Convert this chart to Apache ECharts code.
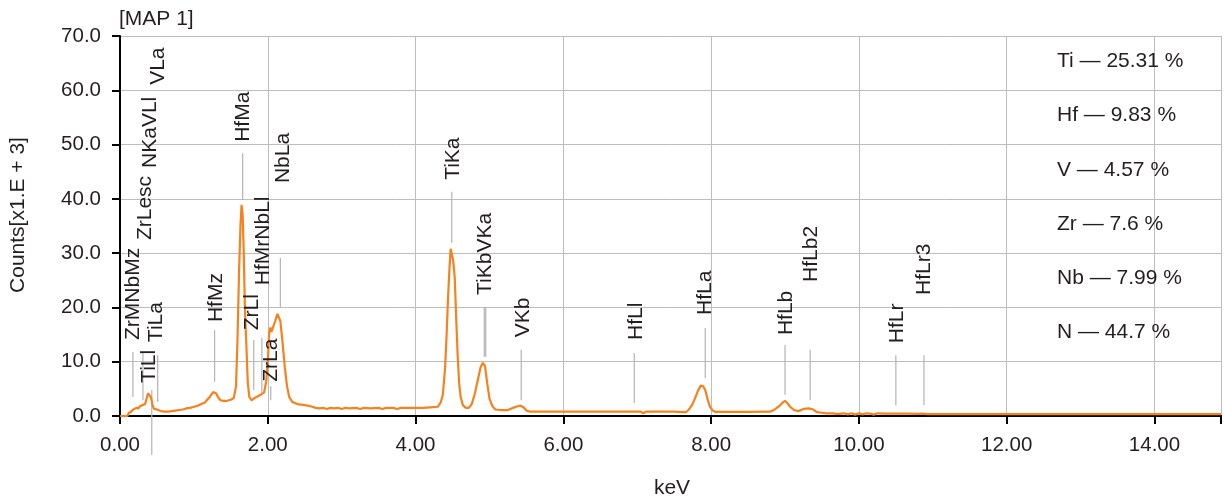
<!DOCTYPE html>
<html>
<head>
<meta charset="utf-8">
<script src="https://cdn.jsdelivr.net/npm/echarts@6/dist/echarts.min.js"></script>
<style>
html,body{margin:0;padding:0;background:#fff;}
#chart{width:1224px;height:497px;}
</style>
</head>
<body>
<div id="chart"></div>
<script>
// ---- data ----
const spectrumKeV = [0.00,0.10,0.12,0.15,0.18,0.20,0.22,0.25,0.27,0.30,0.32,0.34,0.36,0.38,0.40,0.42,0.44,0.46,0.50,0.55,0.60,0.65,0.70,0.75,0.80,0.85,0.90,0.95,1.00,1.05,1.10,1.15,1.18,1.22,1.26,1.28,1.30,1.33,1.36,1.40,1.45,1.50,1.54,1.57,1.59,1.61,1.63,1.645,1.66,1.675,1.69,1.71,1.73,1.75,1.78,1.82,1.86,1.90,1.95,1.98,2.00,2.02,2.035,2.05,2.07,2.10,2.13,2.15,2.17,2.20,2.23,2.26,2.29,2.33,2.40,2.50,2.58,2.65,2.70,2.75,2.80,2.85,2.90,2.95,3.00,3.05,3.10,3.20,3.25,3.30,3.40,3.50,3.55,3.60,3.70,3.75,3.80,3.90,4.00,4.10,4.20,4.30,4.34,4.37,4.40,4.42,4.44,4.46,4.475,4.49,4.51,4.53,4.55,4.57,4.59,4.61,4.64,4.68,4.72,4.76,4.80,4.84,4.88,4.91,4.94,4.97,5.00,5.04,5.08,5.15,5.25,5.32,5.38,5.42,5.46,5.50,5.55,5.70,6.00,6.50,7.00,7.05,7.08,7.12,7.50,7.60,7.66,7.70,7.74,7.78,7.82,7.86,7.89,7.92,7.95,7.98,8.02,8.06,8.50,8.80,8.86,8.92,8.97,9.00,9.03,9.07,9.12,9.18,9.25,9.32,9.38,9.43,9.50,9.55,9.60,9.62,9.64,9.70,9.72,9.74,9.80,9.85,9.90,9.95,10.00,10.05,10.10,10.15,10.20,10.25,10.35,10.50,10.60,10.62,10.65,10.80,10.82,10.85,10.92,11.00,12.00,13.00,14.00,14.90];
const spectrumCounts = [0,0,0.6,0.8,1.2,1.0,1.5,1.4,1.8,2.0,1.7,2.2,3.2,4.2,4.3,3.4,2.0,1.3,1.2,0.9,0.8,0.8,0.9,1.0,1.1,1.2,1.4,1.5,1.7,1.9,2.2,2.5,3.0,3.6,4.4,4.6,4.2,3.4,2.9,2.8,2.8,3.0,3.3,5.5,14,26,35,38.9,37,30,20,13,6,3.5,2.9,3.3,3.6,3.9,4.3,6.5,10,15.5,16.3,15.5,15.2,17.5,18.8,19.1,17.5,13.5,9.0,5.5,3.5,2.6,2.2,2.0,1.8,1.5,1.4,1.5,1.3,1.5,1.4,1.5,1.3,1.5,1.4,1.5,1.3,1.5,1.4,1.5,1.3,1.5,1.5,1.3,1.5,1.5,1.5,1.5,1.6,1.7,2.5,4.0,9.0,15,22,27.5,30.8,30.5,28.5,25.5,18,11,6,3.5,2.0,1.5,1.5,2.2,4.0,6.5,9.0,9.8,9.2,6.0,3.2,1.8,1.2,1.1,1.1,1.5,1.8,1.9,1.6,1.0,0.8,0.8,0.8,0.8,0.8,0.8,0.5,0.8,0.8,0.7,0.7,1.2,2.0,3.2,4.6,5.6,5.5,4.8,3.2,1.8,1.0,0.75,0.75,0.8,1.2,1.8,2.5,2.8,2.4,1.7,1.1,0.9,1.3,1.4,1.2,0.7,0.6,0.5,0.5,0.2,0.5,0.4,0.2,0.4,0.5,0.3,0.5,0.25,0.5,0.3,0.5,0.45,0.25,0.5,0.45,0.45,0.45,0.25,0.45,0.4,0.2,0.45,0.35,0.35,0.35,0.35,0.35,0.35];

// peak identification labels: name, keV position, counts at text base
const peakNames  = ['ZrMNbMz','ZrLesc','NKaVLl','VLa','TiLl','TiLa','HfMz','HfMa','ZrLl','HfMrNbLl','NbLa','ZrLa','TiKa','TiKbVKa','VKb','HfLl','HfLa','HfLb','HfLb2','HfLr','HfLr3'];
const peakTextKeV = [0.17,0.34,0.41,0.51,0.39,0.49,1.30,1.66,1.78,1.93,2.20,2.05,4.51,4.94,5.45,6.98,7.92,9.01,9.35,10.51,10.88];
const peakTextCounts = [14.0,32.4,45.7,61.0,6.1,13.6,17.3,50.5,15.8,24.1,42.9,6.3,43.5,22.3,14.5,14.0,18.6,14.9,24.7,13.4,22.3];

// peak marker lines: keV, low counts, high counts
const markerKeV  = [0.175,0.31,0.43,0.51,1.28,1.66,1.81,1.92,2.17,2.04,4.49,4.93,4.95,5.43,6.96,7.92,9.00,9.34,10.50,10.88];
const markerLow  = [3.5,2.9,-7.2,2.6,6.3,39.8,4.8,4.2,20.1,2.9,31.9,10.9,10.9,2.9,2.4,7.0,3.9,2.9,2.0,2.0];
const markerHigh = [11.8,11.8,4.8,11.2,15.8,48.4,14.0,14.4,29.1,5.5,41.3,20.1,20.1,12.2,11.6,16.2,13.1,12.2,11.2,11.2];

// composition legend
const elements = ['Ti','Hf','V','Zr','Nb','N'];
const percents = ['25.31','9.83','4.57','7.6','7.99','44.7'];
const legendCounts = [65,55,45,35,25,15];

const xTicks = {min:0, max:14.9, interval:2};
const yTicks = {min:0, max:70, interval:10};

// ---- chart ----
const FONT = '"Liberation Sans", Arial, sans-serif';
const TXT = '#231f20';
const chart = echarts.init(document.getElementById('chart'));

const spectrum = spectrumKeV.map((k,i)=>[k, spectrumCounts[i]]);
const labelData = peakNames.map((n,i)=>({name:n, value:[peakTextKeV[i], peakTextCounts[i]]}));
const markerData = markerKeV.map((k,i)=>[k, markerLow[i], markerHigh[i]]);
const legendData = elements.map((e,i)=>({name:e+' — '+percents[i]+' %', value:[0, legendCounts[i]]}));

chart.setOption({
  animation:false,
  grid:{left:120, right:0, top:36, bottom:81, containLabel:false},
  xAxis:[{
    type:'value', min:xTicks.min, max:xTicks.max, interval:xTicks.interval,
    axisLine:{show:true, onZero:false, lineStyle:{color:'#000', width:2}},
    axisTick:{show:true, length:8, lineStyle:{color:'#000', width:2}},
    axisLabel:{color:TXT, fontSize:20.5, fontFamily:FONT, margin:19,
      formatter:v=> (v>xTicks.max-0.5)?'':v.toFixed(2)},
    splitLine:{show:true, lineStyle:{color:'#bdbdbd', width:1}}
  },{
    type:'value', position:'top', min:xTicks.min, max:xTicks.max,
    axisLine:{show:true, lineStyle:{color:'#000', width:2}},
    axisTick:{show:false}, axisLabel:{show:false}, splitLine:{show:false}
  }],
  yAxis:{
    type:'value', min:yTicks.min, max:yTicks.max, interval:yTicks.interval,
    axisLine:{show:true, lineStyle:{color:'#000', width:2}},
    axisTick:{show:true, length:8, lineStyle:{color:'#000', width:2}},
    axisLabel:{color:TXT, fontSize:20.5, fontFamily:FONT, margin:19, formatter:v=>v.toFixed(1)},
    splitLine:{show:true, lineStyle:{color:'#bdbdbd', width:1}}
  },
  graphic:[
    {type:'text', left:119, top:9, style:{text:'[MAP 1]', fontSize:21, fontFamily:FONT, fill:TXT}},
    {type:'text', x:18, y:215, rotation:Math.PI/2, style:{text:'Counts[x1.E + 3]', fontSize:21, fontFamily:FONT, fill:TXT, align:'center', verticalAlign:'middle'}},
    {type:'text', x:672, y:488, style:{text:'keV', fontSize:21, fontFamily:FONT, fill:TXT, align:'center', verticalAlign:'middle'}}
  ],
  series:[
    {
      type:'custom', name:'markers', xAxisIndex:0, yAxisIndex:0, clip:false, z:2,
      data:markerData,
      renderItem:(params, api)=>{
        const p1 = api.coord([api.value(0), api.value(1)]);
        const p2 = api.coord([api.value(0), api.value(2)]);
        return {type:'line', shape:{x1:p1[0], y1:p1[1], x2:p2[0], y2:p2[1]},
          style:{stroke:'#b3b3b3', lineWidth:1.2}};
      }
    },
    {
      type:'line', name:'spectrum', data:spectrum, showSymbol:false, z:3,
      lineStyle:{color:'#F5821F', width:2.2}, itemStyle:{color:'#F5821F'}
    },
    {
      type:'custom', name:'labels', clip:false, z:4,
      data:labelData,
      renderItem:(params, api)=>{
        const p = api.coord([api.value(0), api.value(1)]);
        return {type:'text', x:Math.round(p[0]), y:p[1], rotation:Math.PI/2,
          style:{text:peakNames[params.dataIndex], x:0, y:0, align:'left', verticalAlign:'middle',
            fontSize:21, fontFamily:FONT, fill:TXT}};
      }
    },
    {
      type:'custom', name:'composition', clip:false, z:4,
      data:legendData,
      renderItem:(params, api)=>{
        const p = api.coord([0, api.value(1)]);
        return {type:'text', x:1057, y:p[1]-2,
          style:{text:legendData[params.dataIndex].name, align:'left', verticalAlign:'middle',
            fontSize:21, fontFamily:FONT, fill:TXT}};
      }
    }
  ]
});
</script>
</body>
</html>
